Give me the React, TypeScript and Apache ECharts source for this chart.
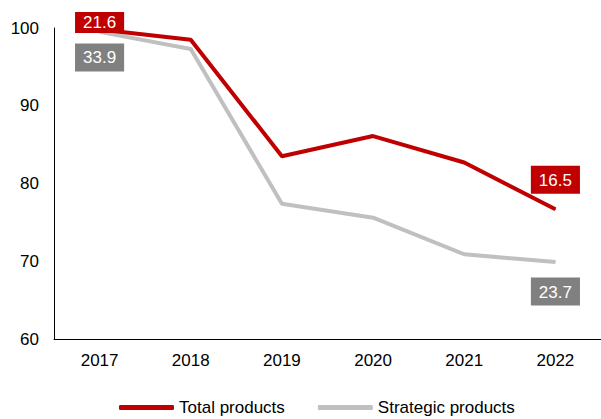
import React, { useEffect, useRef } from "react";
import * as echarts from "echarts";

const years = ["2017", "2018", "2019", "2020", "2021", "2022"];
const totalProducts = [99.8, 98.5, 83.5, 86.1, 82.7, 76.7];
const strategicProducts = [99.5, 97.3, 77.4, 75.6, 70.9, 69.9];
const totalLabels = ["21.6", "", "", "", "", "16.5"];
const strategicLabels = ["33.9", "", "", "", "", "23.7"];

const FONT = "'Liberation Sans', Arial, sans-serif";

export default function App() {
  const ref = useRef<HTMLDivElement>(null);
  useEffect(() => {
    if (!ref.current) return;
    const chart = echarts.init(ref.current, undefined, { renderer: "svg" });
    const mkData = (
      vals: number[],
      labels: string[],
      color: string,
      above: boolean,
      offs: number[],
      pads: number[][]
    ) =>
      vals.map((v, i) =>
        labels[i]
          ? {
              value: v,
              label: {
                show: true,
                formatter: labels[i],
                position: above ? "top" : "bottom",
                distance: 0,
                offset: [0, offs[i]],
                backgroundColor: color,
                color: "#fff",
                fontSize: 17,
                lineHeight: 19,
                fontFamily: FONT,
                padding: pads[i],
              },
            }
          : { value: v }
      );
    const stdPad = [5, 8, 4, 8];
    const smallPad = [1, 8, 1, 8];
    chart.setOption({
      animation: false,
      textStyle: { fontFamily: FONT },
      grid: { left: 54, right: -6, top: 28, bottom: 80, containLabel: false },
      legend: {
        top: 398,
        left: 119,
        padding: 0,
        icon: "roundRect",
        itemWidth: 55,
        itemHeight: 5,
        itemGap: 33,
        textStyle: { fontSize: 17, lineHeight: 19, color: "#000", fontFamily: FONT },
        data: ["Total products", "Strategic products"],
      },
      xAxis: {
        type: "category",
        data: years,
        boundaryGap: true,
        axisLine: { lineStyle: { color: "#000", width: 1 } },
        axisTick: { show: false },
        axisLabel: { color: "#000", fontSize: 17, margin: 13, fontFamily: FONT },
      },
      yAxis: {
        type: "value",
        min: 60,
        max: 100,
        interval: 10,
        axisLine: { show: true, lineStyle: { color: "#000", width: 1 } },
        axisTick: { show: false },
        splitLine: { show: false },
        axisLabel: { color: "#000", fontSize: 17, margin: 15, fontFamily: FONT },
      },
      series: [
        {
          name: "Strategic products",
          type: "line",
          data: mkData(
            strategicProducts,
            strategicLabels,
            "#808080",
            false,
            [11, 0, 0, 0, 0, 15],
            [stdPad, stdPad, stdPad, stdPad, stdPad, stdPad]
          ),
          symbol: "circle",
          symbolSize: 1,
          showSymbol: true,
          itemStyle: { color: "#C0C0C0" },
          lineStyle: { color: "#C0C0C0", width: 4 },
          z: 2,
        },
        {
          name: "Total products",
          type: "line",
          data: mkData(
            totalProducts,
            totalLabels,
            "#C00000",
            true,
            [4, 0, 0, 0, 0, -15],
            [smallPad, stdPad, stdPad, stdPad, stdPad, stdPad]
          ),
          symbol: "circle",
          symbolSize: 1,
          showSymbol: true,
          itemStyle: { color: "#C00000" },
          lineStyle: { color: "#C00000", width: 4 },
          z: 3,
        },
      ],
    });
    return () => chart.dispose();
  }, []);
  return (
    <div
      ref={ref}
      style={{ position: "fixed", left: 0, top: 0, width: 601, height: 419, background: "#fff" }}
    />
  );
}
